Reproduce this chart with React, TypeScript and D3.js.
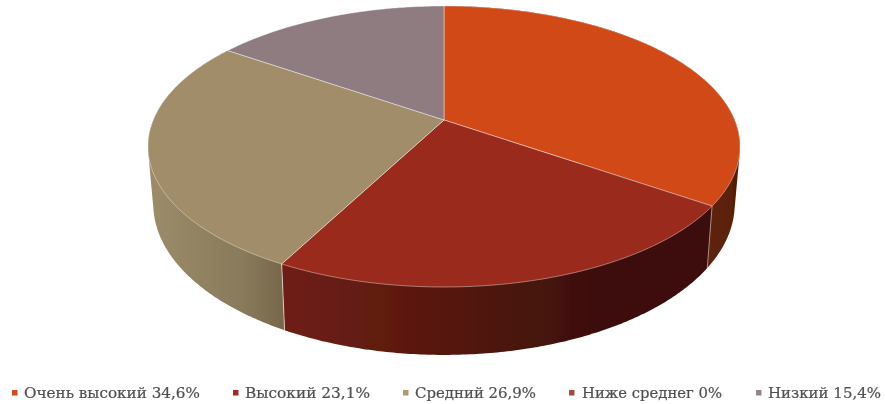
import React from "react";
import * as d3 from "d3";

const categories = ["Очень высокий", "Высокий", "Средний", "Ниже среднег", "Низкий"];
const shares = [34.6, 23.1, 26.9, 0, 15.4];
const shareLabels = ["34,6%", "23,1%", "26,9%", "0%", "15,4%"];
const topColors = ["#D14A17", "#9A2A1E", "#A18D6A", "#A0503C", "#8F7C80"];
const legendColors = ["#D8481A", "#A82A1E", "#B09A72", "#A0503C", "#948488"];
const sideStops = [
  ["#5E2408", "#5A2006", "#4A1A06"],
  ["#701F14", "#3E100B", "#3C100A"],
  ["#9C8C6A", "#887A5A", "#77684B"],
  ["#5E2408", "#5A2006", "#4A1A06"],
  ["#5E5054", "#5E5054", "#5E5054"],
];
const sideStopOffsets = [0, 0.72, 1];
const legendMarkX = [12, 233, 403, 569, 756];
const legendTextX = [24, 245, 415, 582, 768];
const legendTextW = [176, 125, 121, 140, 113];

const W = 885, H = 404;
const cx = 444, cy = 120, R = 290.7, B = 135.5, K = 0.1886;
const project = (a: number) => {
  const u = Math.sin(a), v = -Math.cos(a), d = 1 - K * v;
  return [cx + (R * u) / d, cy + (B * v) / d] as [number, number];
};
const lower = ([x, y]: [number, number]) =>
  [cx + (x - cx) * 0.982, y * 1.074 + 46.7] as [number, number];

const arcs = d3.pie<number>().sort(null)(shares);
const samples = (s: number, e: number) => {
  const n = Math.max(2, Math.ceil((e - s) / 0.01));
  return d3.range(n + 1).map((i) => project(s + ((e - s) * i) / n));
};
const line = d3.line<[number, number]>();

export default function App() {
  return (
    <svg width={W} height={H} style={{ position: "fixed", left: 0, top: 0, background: "#fff" }}>
      <defs>
        <filter id="soft" x="-5%" y="-5%" width="110%" height="110%">
          <feGaussianBlur stdDeviation="0.45" />
        </filter>
        {arcs.map((a, i) => {
          if (a.endAngle - a.startAngle < 1e-6) return null;
          const rim = samples(a.startAngle, a.endAngle).filter((p) => p[1] > 120);
          const xs = rim.map((p) => p[0]);
          const lo = d3.min(xs)!, hi = d3.max(xs)!;
          return (
            <linearGradient key={i} id={`side${i}`} gradientUnits="userSpaceOnUse" x1={lo} x2={hi} y1={0} y2={0}>
              {sideStopOffsets.map((o, j) => (
                <stop key={j} offset={o} stopColor={sideStops[i][j]} />
              ))}
            </linearGradient>
          );
        })}
      </defs>
      <g filter="url(#soft)">
        {arcs.map((a, i) => {
          if (a.endAngle - a.startAngle < 1e-6 || i === 4) return null;
          const rim = samples(a.startAngle, a.endAngle);
          const hull = d3.polygonHull([...rim, ...rim.map(lower)])!;
          return <path key={i} d={line(hull as [number, number][])! + "Z"} fill={`url(#side${i})`} />;
        })}
        {arcs.map((a, i) => {
          if (i !== 0) return null;
          const p = project(a.endAngle);
          return (
            <path key={i} d={line([p, lower(p)])!} stroke="#fff" strokeOpacity={0.5} strokeWidth={1} fill="none" />
          );
        })}
        {arcs.map((a, i) => {
          if (i !== 1) return null;
          const p = project(a.endAngle);
          return (
            <path key={i} d={line([p, lower(p)])!} stroke="#fff" strokeOpacity={0.6} strokeWidth={1} fill="none" />
          );
        })}
        {arcs.map((a, i) => {
          if (a.endAngle - a.startAngle < 1e-6) return null;
          const rim = samples(a.startAngle, a.endAngle);
          return (
            <path
              key={i}
              d={line([[cx, cy], ...rim])! + "Z"}
              fill={topColors[i]}
              stroke="#fff"
              strokeOpacity={0.5}
              strokeWidth={0.8}
              strokeLinejoin="round"
            />
          );
        })}
      </g>
      <g filter="url(#soft)">
        {categories.map((c, i) => (
          <g key={c}>
            <rect x={legendMarkX[i]} y={390} width={5.5} height={5.5} fill={legendColors[i]} />
            <text
              x={legendTextX[i]}
              y={398}
              fontFamily="'DejaVu Serif', serif"
              fontSize={14}
              fill="#505050"
              stroke="#505050"
              strokeWidth={0.2}
              textLength={legendTextW[i]}
              lengthAdjust="spacingAndGlyphs"
            >
              {`${c} ${shareLabels[i]}`}
            </text>
          </g>
        ))}
      </g>
    </svg>
  );
}
